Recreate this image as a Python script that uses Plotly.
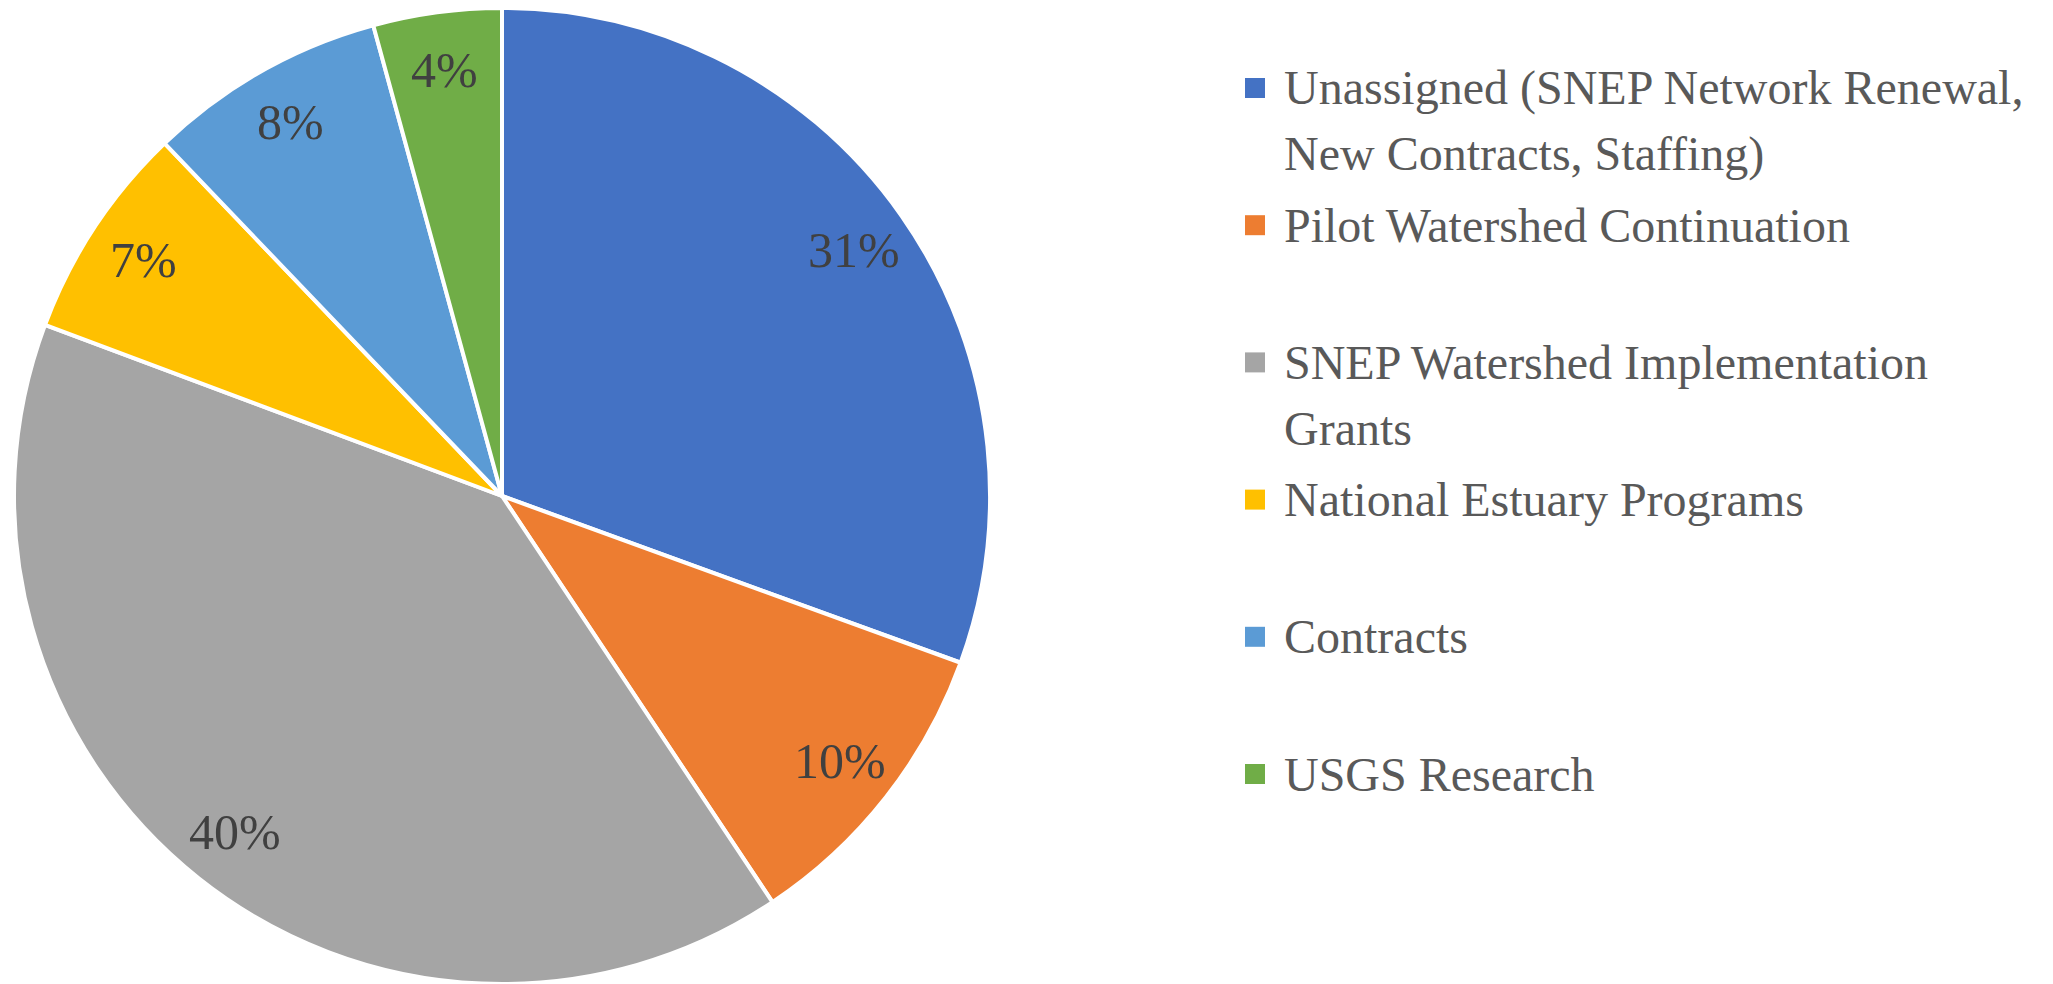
import math
import plotly.graph_objects as go

# ---- data ----
categories = [
    "Unassigned (SNEP Network Renewal, New Contracts, Staffing)",
    "Pilot Watershed Continuation",
    "SNEP Watershed Implementation Grants",
    "National Estuary Programs",
    "Contracts",
    "USGS Research",
]
legend_lines = [
    ["Unassigned (SNEP Network Renewal,", "New Contracts, Staffing)"],
    ["Pilot Watershed Continuation"],
    ["SNEP Watershed Implementation", "Grants"],
    ["National Estuary Programs"],
    ["Contracts"],
    ["USGS Research"],
]
shares = [30.55, 10.1, 40.05, 7.15, 7.9, 4.25]
colors = ["#4472C4", "#ED7D31", "#A5A5A5", "#FFC000", "#5B9BD5", "#70AD47"]

# ---- layout constants ----
OFF = 8                              # page body margin of the browser
W, H = 2053 - OFF, 984 - OFF
R = 488
CX, CY = 502 - OFF, R                # pie centre in figure pixels
FONT = "Liberation Serif, DejaVu Serif, serif"
LABEL_COLOR = "#404040"
LEGEND_COLOR = "#595959"
LABEL_SIZE = 50
LEGEND_SIZE = 48
LABEL_RADIUS = 0.88

fig = go.Figure()
fig.add_trace(go.Pie(
    labels=categories,
    values=shares,
    sort=False,
    direction="clockwise",
    rotation=0,
    marker=dict(colors=colors, line=dict(color="white", width=4)),
    textinfo="none",
    hoverinfo="label+percent",
    showlegend=False,
    domain=dict(x=[(CX - R) / W, (CX + R) / W],
                y=[max(0.0, (H - CY - R) / H), min(1.0, (H - CY + R) / H)]),
))

annotations = []
shapes = []

# data labels along each slice bisector
total = sum(shares)
cum = 0.0
for v in shares:
    mid = (cum + v / 2) / total * 2 * math.pi
    cum += v
    px = CX + LABEL_RADIUS * R * math.sin(mid)
    py = CY - LABEL_RADIUS * R * math.cos(mid)
    annotations.append(dict(
        x=px / W, y=1 - py / H, xref="paper", yref="paper",
        text=f"{round(v / total * 100)}%", showarrow=False,
        xanchor="center", yanchor="middle",
        font=dict(family=FONT, size=LABEL_SIZE, color=LABEL_COLOR),
    ))

# legend (evenly spaced entries, like the original)
LEG_X_SQ, LEG_X_TXT = 1245 - OFF, 1283 - OFF
LEG_Y0, LEG_STEP, LINE_STEP = 88 - OFF, 137.2, 66
SQ_W, SQ_H = 20, 20
for i, (lines, col) in enumerate(zip(legend_lines, colors)):
    yc = LEG_Y0 + i * LEG_STEP
    shapes.append(dict(
        type="rect", xref="paper", yref="paper",
        x0=LEG_X_SQ / W, x1=(LEG_X_SQ + SQ_W) / W,
        y0=1 - (yc + SQ_H / 2) / H, y1=1 - (yc - SQ_H / 2) / H,
        fillcolor=col, line=dict(width=0),
    ))
    for j, ln in enumerate(lines):
        annotations.append(dict(
            x=LEG_X_TXT / W, y=1 - (yc + j * LINE_STEP) / H,
            xref="paper", yref="paper", text=ln, showarrow=False,
            xanchor="left", yanchor="middle", borderpad=0,
            font=dict(family=FONT, size=LEGEND_SIZE, color=LEGEND_COLOR),
        ))

fig.update_layout(
    width=W, height=H,
    margin=dict(l=0, r=0, t=0, b=0),
    paper_bgcolor="white", plot_bgcolor="white",
    annotations=annotations, shapes=shapes,
    showlegend=False,
)

fig.write_html("out.html")
